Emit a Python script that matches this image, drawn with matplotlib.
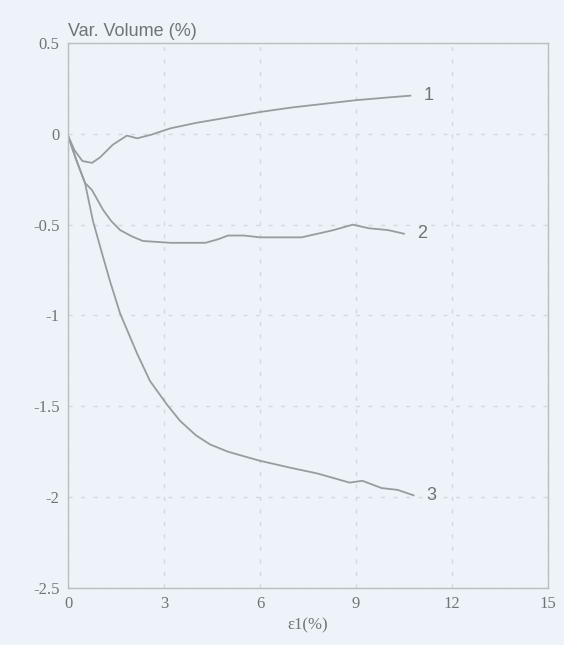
import matplotlib
matplotlib.use("Agg")
import matplotlib.pyplot as plt

# strain (%) vs volume variation (%) for three tests
c1_x = [0, 0.2, 0.45, 0.75, 1.0, 1.4, 1.84, 2.16, 2.6, 3.2, 4.0, 5.0, 6.0, 7.0, 8.0, 9.0, 10.0, 10.7]
c1_y = [-0.01, -0.09, -0.15, -0.16, -0.13, -0.06, -0.01, -0.025, -0.005, 0.03, 0.06, 0.09,
        0.12, 0.145, 0.165, 0.185, 0.2, 0.21]

c2_x = [0, 0.25, 0.53, 0.75, 1.1, 1.35, 1.63, 2.0, 2.34, 3.2, 3.7, 4.3, 4.7, 5.0, 5.5,
        6.0, 7.3, 8.3, 8.9, 9.4, 10.0, 10.5]
c2_y = [-0.01, -0.14, -0.27, -0.31, -0.42, -0.48, -0.53, -0.565, -0.59, -0.60, -0.60, -0.60,
        -0.58, -0.56, -0.56, -0.57, -0.57, -0.53, -0.50, -0.52, -0.53, -0.55]

c3_x = [0, 0.25, 0.53, 0.78, 1.05, 1.31, 1.63, 2.16, 2.56, 3.09, 3.5, 4.0, 4.44, 5.0, 6.0,
        7.0, 7.8, 8.8, 9.2, 9.8, 10.3, 10.8]
c3_y = [-0.01, -0.14, -0.27, -0.48, -0.65, -0.81, -0.99, -1.21, -1.36, -1.49, -1.58, -1.66,
        -1.71, -1.75, -1.80, -1.84, -1.87, -1.92, -1.91, -1.95, -1.96, -1.99]

curve_labels = ["1", "2", "3"]
x_ticks = [0, 3, 6, 9, 12, 15]
y_ticks = [0.5, 0, -0.5, -1, -1.5, -2, -2.5]
y_ticklabels = ["0.5", "0", "-0.5", "-1", "-1.5", "-2", "-2.5"]

bg = "#eef3f9"
line_c = "#959d9f"
text_c = "#6f7577"

fig = plt.figure(figsize=(5.64, 6.45), dpi=100, facecolor=bg)
ax = fig.add_axes([0.1206, 0.0884, 0.851, 0.845], facecolor=bg)

for xs, ys, lab in zip([c1_x, c2_x, c3_x], [c1_y, c2_y, c3_y], curve_labels):
    ax.plot(xs, ys, color=line_c, lw=1.3)
    ax.text(xs[-1] + 0.4, ys[-1], lab, color=text_c, fontsize=13,
            family="Liberation Sans", va="center", ha="left")

ax.set_xlim(0, 15)
ax.set_ylim(-2.5, 0.5)
ax.set_xticks(x_ticks)
ax.set_yticks(y_ticks)
ax.set_yticklabels(y_ticklabels)
ax.grid(True, ls=(0, (3, 6)), color="#d3d9de", lw=1.0)
ax.tick_params(length=0, pad=6, labelsize=12, labelcolor=text_c)
for lbl in ax.get_xticklabels() + ax.get_yticklabels():
    lbl.set_family("Liberation Serif")
for sp in ax.spines.values():
    sp.set_color("#b8bfc2")
    sp.set_linewidth(1.0)

ax.set_xlabel("ε1(%)", family="Liberation Serif", fontsize=12, color=text_c, labelpad=4)
ax.text(0.0, 1.005, "Var. Volume (%)", transform=ax.transAxes, family="Liberation Sans",
        fontsize=13, color=text_c, ha="left", va="bottom")

fig.savefig("out.png", dpi=100, facecolor=bg)
